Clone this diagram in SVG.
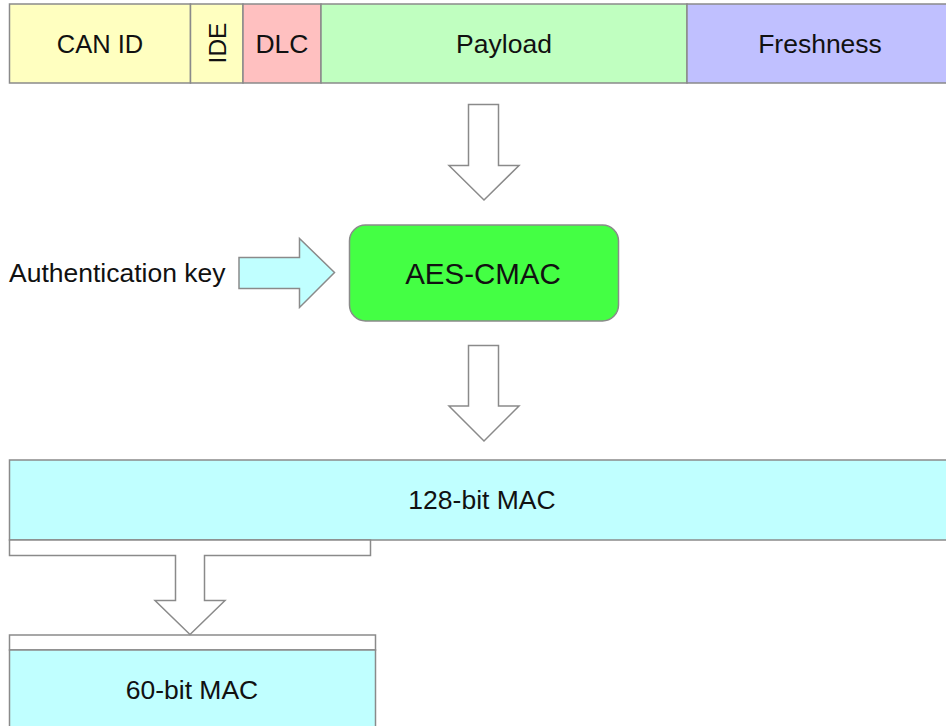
<svg xmlns="http://www.w3.org/2000/svg" width="946" height="726" viewBox="0 0 946 726">
  <style>
    .box { stroke: #8a8a8a; stroke-width: 1.5; }
    .arrow { fill: #ffffff; stroke: #8a8a8a; stroke-width: 1.5; stroke-linejoin: miter; }
    .lbl { font-family: "Liberation Sans", Arial, Helvetica, sans-serif; font-size: 26.5px; fill: #111111; text-anchor: middle; dominant-baseline: central; }
  </style>
  <rect width="946" height="726" fill="#ffffff"/>

  <!-- message frame fields -->
  <g id="frame">
    <g id="can-id">
      <rect class="box" x="9.5" y="4" width="181" height="79" fill="#ffffc0"/>
      <text class="lbl" x="100" y="44" style="font-size:25.5px">CAN ID</text>
    </g>
    <g id="ide">
      <rect class="box" x="190.5" y="4" width="52.5" height="79" fill="#ffffc0"/>
      <text class="lbl" transform="translate(217 43) rotate(-90)" x="0" y="0" style="font-size:24.5px">IDE</text>
    </g>
    <g id="dlc">
      <rect class="box" x="243" y="4" width="78" height="79" fill="#ffc0c0"/>
      <text class="lbl" x="282" y="44">DLC</text>
    </g>
    <g id="payload">
      <rect class="box" x="321" y="4" width="366" height="79" fill="#c0ffc0"/>
      <text class="lbl" x="504" y="44">Payload</text>
    </g>
    <g id="freshness">
      <rect class="box" x="687" y="4" width="266" height="79" fill="#c0c0ff"/>
      <text class="lbl" x="820" y="44">Freshness</text>
    </g>
  </g>

  <!-- key input -->
  <g id="auth-key">
    <text class="lbl" x="9" y="273" style="text-anchor:start">Authentication key</text>
  </g>

  <!-- MAC algorithm -->
  <g id="aes-cmac">
    <rect class="box" x="349.5" y="225" width="269" height="96" rx="16" ry="16" fill="#44ff44"/>
    <text class="lbl" x="483" y="273" style="font-size:29.5px">AES-CMAC</text>
  </g>

  <!-- full MAC -->
  <g id="mac-128">
    <rect class="box" x="9.5" y="460" width="945" height="80" fill="#c0ffff"/>
    <text class="lbl" x="482" y="500">128-bit MAC</text>
  </g>

  <!-- truncated MAC -->
  <g id="mac-60">
    <rect class="box" x="9.5" y="635" width="366" height="15" fill="#ffffff"/>
    <rect class="box" x="9.5" y="650" width="366" height="90" fill="#c0ffff"/>
    <text class="lbl" x="192" y="690">60-bit MAC</text>
  </g>

  <!-- block arrows -->
  <g id="connectors">
    <path class="arrow" d="M468.5 104.5 H498.5 V165.5 H519 L484 200 L449 165.5 H468.5 Z"/>
    <path class="arrow" d="M239 257.5 H299.5 V238.5 L334.5 272.5 L299.5 307.5 V288.5 H239 Z" style="fill:#c0ffff"/>
    <path class="arrow" d="M468.5 345.5 H498.5 V406 H519 L484 441 L449 406 H468.5 Z"/>
    <path class="arrow" d="M9.5 540 H370.5 V555.5 H204.5 V600.5 H225 L190 634.5 L155 600.5 H175.5 V555.5 H9.5 Z"/>
  </g>
</svg>
